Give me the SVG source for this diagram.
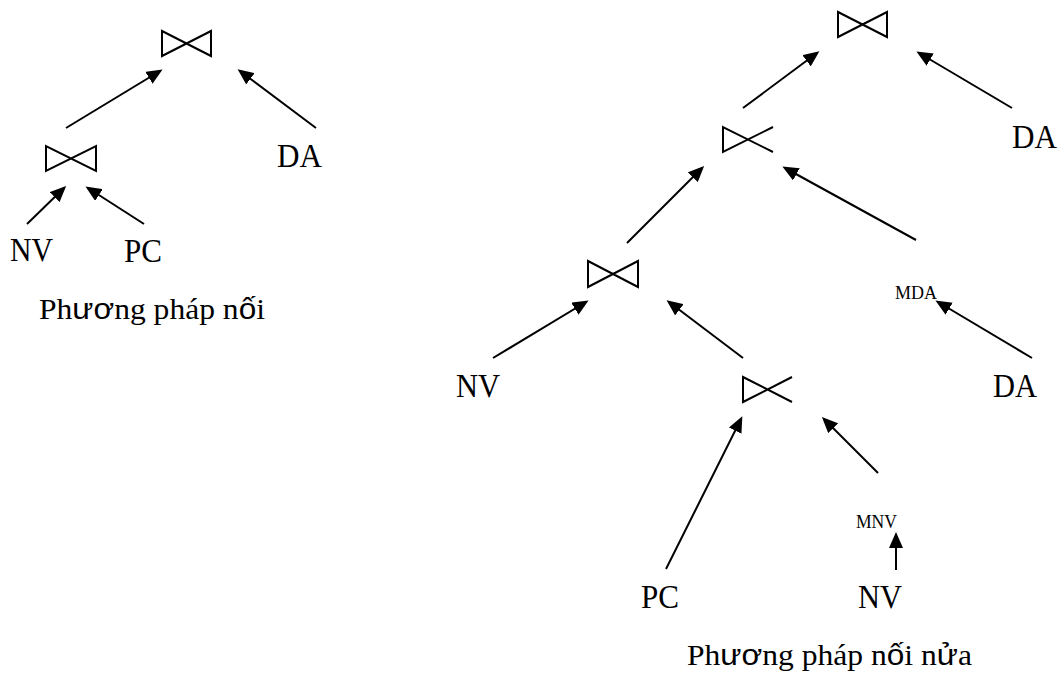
<svg xmlns="http://www.w3.org/2000/svg" width="1062" height="675" viewBox="0 0 1062 675">
  <style>
    .lbl { font-family: "Liberation Serif", "Times New Roman", serif; font-size: 33px; fill: #000; }
    .cap { font-family: "Liberation Serif", "Times New Roman", serif; font-size: 30px; fill: #000; }
    .small { font-family: "Liberation Serif", "Times New Roman", serif; font-size: 18px; fill: #000; }
    .sans { font-family: "Liberation Sans", Arial, sans-serif; }
    .op { fill: none; stroke: #000; stroke-width: 2; stroke-linejoin: miter; }
    .edge { fill: none; stroke: #000; stroke-width: 2; marker-end: url(#arrow); }
  </style>
  <defs>
    <marker id="arrow" viewBox="0 0 16 14" refX="13" refY="7" markerWidth="16" markerHeight="14" markerUnits="userSpaceOnUse" orient="auto">
      <path d="M0,0 L16,7 L0,14 Z" fill="#000"/>
    </marker>
  </defs>
  <rect width="1062" height="675" fill="#fff"/>

  <!-- Left tree: join method -->
  <g id="join-top"><path class="op" d="M162,31 L162,56 L211,31 L211,56 Z"/></g>
  <g id="join-bottom"><path class="op" d="M46,146 L46,171 L96,146 L96,171 Z"/></g>
  <g id="left-da"><text class="lbl" x="277" y="167" textLength="45" lengthAdjust="spacingAndGlyphs">DA</text></g>
  <g id="left-nv"><text class="lbl" x="10" y="261" textLength="43" lengthAdjust="spacingAndGlyphs">NV</text></g>
  <g id="left-pc"><text class="lbl" x="124" y="262" textLength="38" lengthAdjust="spacingAndGlyphs">PC</text></g>
  <g id="caption-join"><text class="cap" x="39" y="319" textLength="226" lengthAdjust="spacingAndGlyphs">Ph<tspan class="sans">ươ</tspan>ng pháp n<tspan class="sans">ố</tspan>i</text></g>

  <!-- Right tree: semi-join method -->
  <g id="semi-top"><path class="op" d="M838,12 L838,37 L887,12 L887,37 Z"/></g>
  <g id="semi-upper"><path class="op" d="M773,127 L723,152 L723,127 L773,152"/></g>
  <g id="semi-mid"><path class="op" d="M588,261 L588,287 L638,261 L638,287 Z"/></g>
  <g id="semi-lower"><path class="op" d="M792,377 L743,402 L743,377 L792,402"/></g>
  <g id="right-da-top"><text class="lbl" x="1012" y="148" textLength="45" lengthAdjust="spacingAndGlyphs">DA</text></g>
  <g id="right-mda"><text class="small" x="895" y="299" textLength="42" lengthAdjust="spacingAndGlyphs">MDA</text></g>
  <g id="right-da"><text class="lbl" x="993" y="397" textLength="44" lengthAdjust="spacingAndGlyphs">DA</text></g>
  <g id="right-nv"><text class="lbl" x="456" y="397" textLength="44" lengthAdjust="spacingAndGlyphs">NV</text></g>
  <g id="right-mnv"><text class="small" x="856" y="528" textLength="41" lengthAdjust="spacingAndGlyphs">MNV</text></g>
  <g id="right-pc"><text class="lbl" x="641" y="608" textLength="38" lengthAdjust="spacingAndGlyphs">PC</text></g>
  <g id="right-nv2"><text class="lbl" x="858" y="608" textLength="44" lengthAdjust="spacingAndGlyphs">NV</text></g>
  <g id="caption-semijoin"><text class="cap" x="687" y="665" textLength="285" lengthAdjust="spacingAndGlyphs">Ph<tspan class="sans">ươ</tspan>ng pháp n<tspan class="sans">ố</tspan>i n<tspan class="sans">ử</tspan>a</text></g>

  <g id="connectors">
    <!-- left tree -->
    <line class="edge" x1="66" y1="128" x2="160" y2="71"/>
    <line class="edge" x1="316" y1="128" x2="240" y2="71"/>
    <line class="edge" x1="27" y1="224" x2="64" y2="188"/>
    <line class="edge" x1="144" y1="224" x2="88" y2="188"/>
    <!-- right tree -->
    <line class="edge" x1="743" y1="108" x2="817" y2="53"/>
    <line class="edge" x1="1012" y1="108" x2="919" y2="53"/>
    <line class="edge" x1="627" y1="243" x2="702" y2="168"/>
    <line class="edge" x1="916" y1="240" x2="785" y2="168"/>
    <line class="edge" x1="493" y1="358" x2="586" y2="302"/>
    <line class="edge" x1="743" y1="358" x2="669" y2="302"/>
    <line class="edge" x1="1032" y1="358" x2="938" y2="302"/>
    <line class="edge" x1="666" y1="569" x2="741" y2="419"/>
    <line class="edge" x1="878" y1="473" x2="824" y2="419"/>
    <line class="edge" x1="896" y1="570" x2="896" y2="535"/>
  </g>
</svg>
